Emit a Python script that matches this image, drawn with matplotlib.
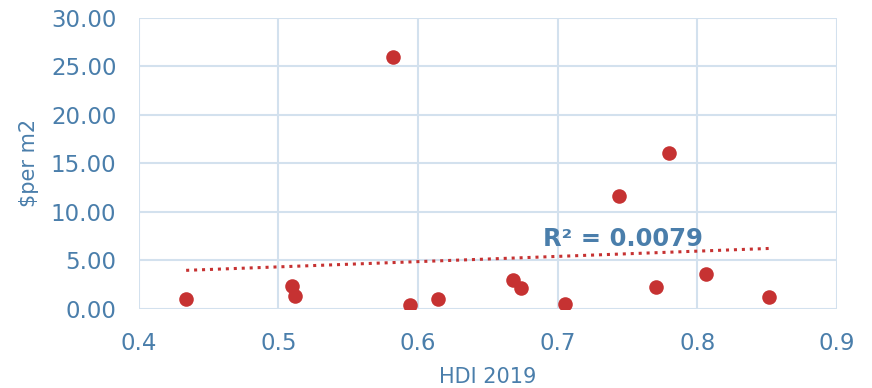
import numpy as np
import matplotlib.pyplot as plt

hdi = [0.434, 0.510, 0.512, 0.582, 0.594, 0.614, 0.668, 0.674, 0.705, 0.744, 0.770, 0.780, 0.806, 0.851]
cost = [1.03, 2.37, 1.34, 26.0, 0.41, 1.03, 2.99, 2.16, 0.52, 11.65, 2.27, 16.1, 3.6, 1.24]
r2_label = "R² = 0.0079"

blue = '#4a7eab'
red = '#c63232'
grid = '#d3e1ee'

fig = plt.figure(figsize=(8.72, 3.88), dpi=100)
ax = fig.add_axes([0.159, 0.204, 0.801, 0.750])

ax.scatter(hdi, cost, s=110, color=red, zorder=3, linewidths=0)

# linear trendline over the data range
k, b = np.polyfit(hdi, cost, 1)
xs = np.array([min(hdi), max(hdi)])
ax.plot(xs, k * xs + b, color=red, linestyle=(0, (1, 1.6)), linewidth=2.2, zorder=2)

ax.text(0.6896, 7.2, r2_label, color=blue, fontsize=17.5, fontweight='bold', ha='left', va='center')

ax.set_xlim(0.4, 0.9)
ax.set_ylim(0, 30)
ax.set_xticks(np.arange(0.4, 0.91, 0.1))
ax.set_yticks(np.arange(0, 31, 5))
ax.set_xticklabels([f"{v:.1f}" for v in np.arange(0.4, 0.91, 0.1)])
ax.set_yticklabels([f"{v:.2f}" for v in np.arange(0, 31, 5)])
ax.grid(True, color=grid, linewidth=1.5)
ax.set_axisbelow(True)
for s in ax.spines.values():
    s.set_visible(False)
ax.tick_params(length=0, labelsize=16.5, labelcolor=blue)
ax.tick_params(axis='x', pad=17)
ax.tick_params(axis='y', pad=16)

ax.set_xlabel("HDI 2019", color=blue, fontsize=15)
ax.set_ylabel("$per m2", color=blue, fontsize=15)
ax.xaxis.set_label_coords(0.5, -0.2)
ax.yaxis.set_label_coords(-0.143, 0.503)

fig.savefig("out.png", dpi=100)
